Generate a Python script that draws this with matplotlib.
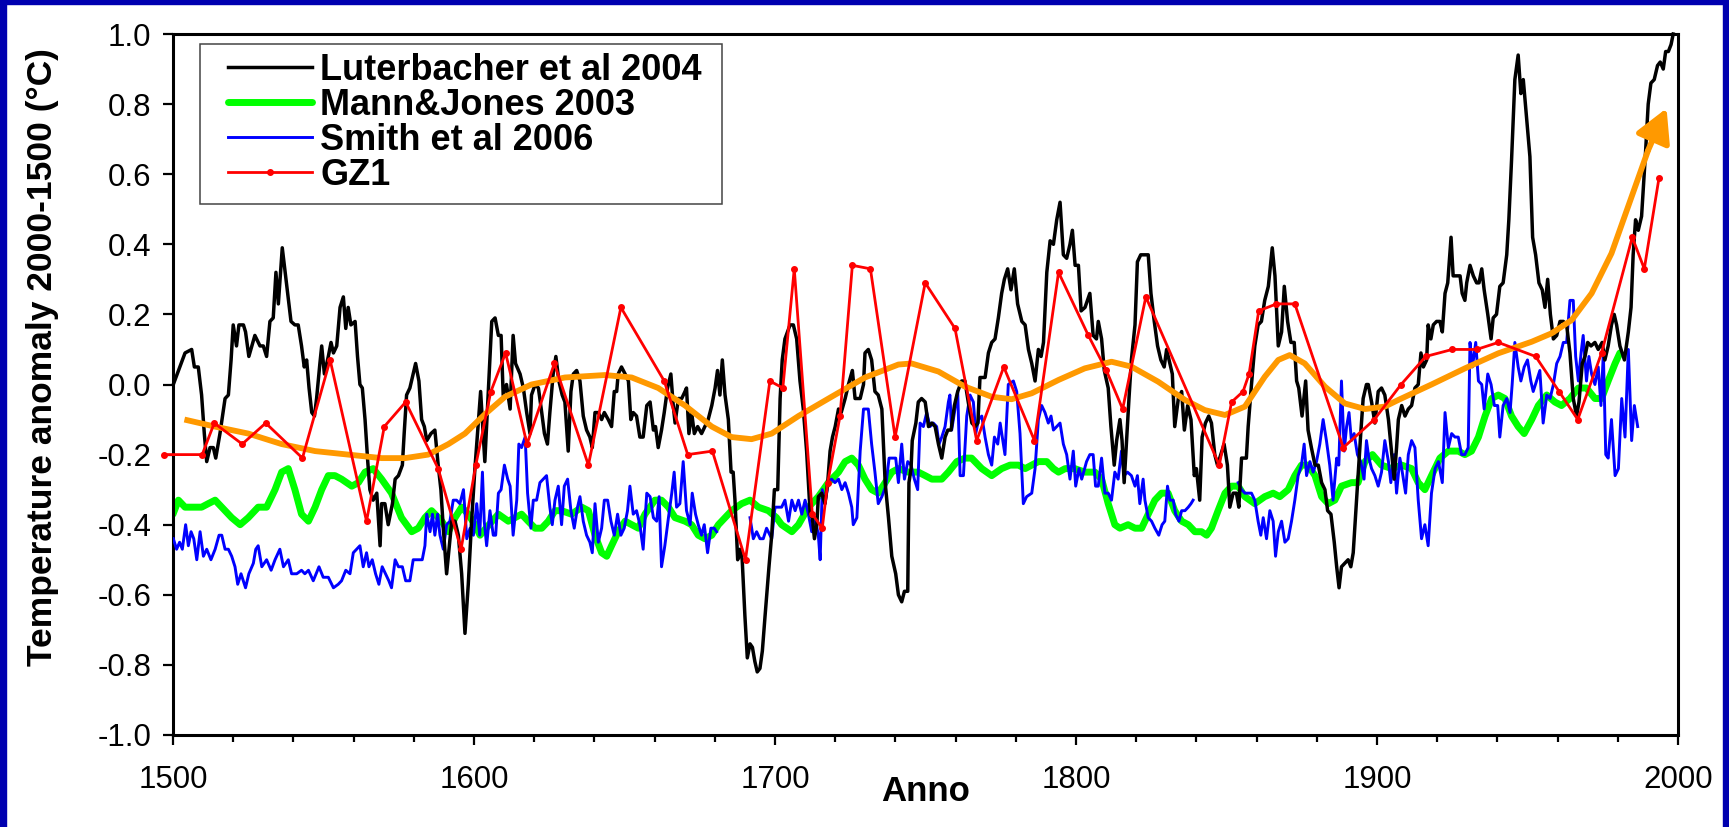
import numpy as np
import matplotlib
matplotlib.use("Agg")
import matplotlib.pyplot as plt
from matplotlib.ticker import MultipleLocator, FormatStrFormatter
from matplotlib.patches import Rectangle, FancyArrowPatch

plt.rcParams['font.family'] = ['Liberation Sans', 'DejaVu Sans']
plt.rcParams['axes.unicode_minus'] = False

# Luterbacher et al 2004 (annual reconstruction)
lut_year = [
    1500.1, 1504.0, 1506.2, 1507.1, 1508.4, 1509.5, 1510.4, 1511.2, 1512.3, 1513.4, 1514.2, 1515.6, 1517.3, 1518.4,
    1519.3, 1520.0, 1521.1, 1521.9, 1523.4, 1524.1, 1525.2, 1527.2, 1528.9, 1530.0, 1531.1, 1532.2, 1533.3, 1534.2,
    1535.0, 1536.3, 1537.8, 1539.2, 1540.5, 1541.6, 1542.7, 1543.6, 1544.4, 1545.2, 1546.1, 1547.0, 1547.7, 1548.8,
    1549.4, 1550.3, 1551.6, 1552.5, 1553.3, 1554.4, 1555.5, 1556.6, 1557.4, 1558.2, 1559.1, 1560.5, 1561.3, 1562.1,
    1562.9, 1563.8, 1564.7, 1565.4, 1566.5, 1567.7, 1568.8, 1569.3, 1570.4, 1571.5, 1572.9, 1573.8, 1574.9, 1576.2,
    1576.8, 1577.6, 1578.7, 1579.8, 1580.6, 1581.7, 1582.6, 1583.5, 1584.3, 1585.7, 1587.0, 1588.1, 1589.0, 1589.8,
    1590.9, 1591.7, 1592.6, 1593.7, 1594.8, 1595.9, 1597.0, 1598.1, 1599.2, 1600.3, 1602.2, 1603.6, 1604.8, 1605.9,
    1607.0, 1608.1, 1609.0, 1609.7, 1610.8, 1612.0, 1613.0, 1613.8, 1615.3, 1616.4, 1617.5, 1618.6, 1619.1, 1620.3,
    1621.4, 1622.5, 1623.4, 1624.4, 1625.2, 1626.3, 1627.2, 1628.2, 1629.3, 1630.2, 1631.3, 1632.2, 1633.0, 1634.1,
    1635.2, 1636.3, 1637.4, 1638.5, 1639.3, 1640.2, 1641.3, 1642.4, 1643.3, 1644.6, 1645.7, 1646.6, 1647.4, 1647.9,
    1649.0, 1650.2, 1651.3, 1652.1, 1652.9, 1654.0, 1655.1, 1656.2, 1657.4, 1658.5, 1659.6, 1660.3, 1661.2, 1662.3,
    1663.2, 1664.3, 1665.4, 1666.2, 1666.8, 1667.9, 1669.0, 1670.1, 1670.6, 1671.4, 1672.3, 1673.2, 1674.3, 1675.6,
    1676.7, 1677.8, 1679.0, 1680.1, 1680.9, 1681.7, 1682.5, 1683.4, 1684.5, 1685.4, 1686.1, 1686.7, 1687.6, 1688.4,
    1689.1, 1690.0, 1690.8, 1691.7, 1692.5, 1693.3, 1694.1, 1695.0, 1695.8, 1696.7, 1698.0, 1698.9, 1699.8, 1700.9,
    1701.7, 1702.4, 1703.3, 1705.0, 1706.1, 1707.2, 1708.3, 1709.4, 1710.5, 1711.7, 1712.4, 1713.1, 1713.9, 1714.4,
    1715.5, 1716.6, 1717.5, 1718.3, 1719.1, 1720.0, 1721.1, 1722.0, 1723.3, 1724.4, 1725.7, 1726.6, 1728.3, 1729.4,
    1729.9, 1731.0, 1732.1, 1733.2, 1734.3, 1735.5, 1736.6, 1737.7, 1738.8, 1740.1, 1741.0, 1742.1, 1743.0, 1744.1,
    1744.5, 1745.2, 1745.6, 1746.8, 1747.6, 1748.7, 1749.9, 1751.0, 1752.1, 1753.2, 1754.3, 1755.4, 1756.5, 1757.4,
    1758.5, 1759.6, 1760.7, 1762.0, 1763.1, 1764.2, 1765.4, 1766.5, 1767.4, 1768.1, 1769.8, 1770.9, 1772.0, 1773.1,
    1774.2, 1775.3, 1776.2, 1777.3, 1778.4, 1779.5, 1780.6, 1782.0, 1783.1, 1784.2, 1785.3, 1786.4, 1787.5, 1788.4,
    1789.2, 1790.3, 1791.4, 1792.5, 1793.6, 1794.7, 1795.8, 1796.9, 1798.0, 1798.8, 1799.7, 1800.8, 1801.7, 1803.0,
    1804.6, 1805.7, 1806.8, 1807.4, 1808.5, 1809.4, 1810.7, 1811.6, 1812.7, 1813.5, 1814.6, 1815.3, 1816.0, 1816.8,
    1817.6, 1818.4, 1819.6, 1820.4, 1821.5, 1822.9, 1824.0, 1824.9, 1826.0, 1827.1, 1828.2, 1829.3, 1830.1, 1831.2,
    1832.0, 1832.8, 1834.0, 1835.1, 1836.0, 1837.1, 1838.2, 1839.3, 1840.0, 1841.1, 1841.9, 1843.0, 1844.1, 1845.0,
    1846.1, 1847.0, 1848.1, 1849.2, 1850.3, 1851.1, 1852.2, 1853.3, 1854.1, 1855.0, 1856.6, 1857.2, 1858.3, 1859.4,
    1860.5, 1861.6, 1862.7, 1863.9, 1865.2, 1866.1, 1867.2, 1868.3, 1869.2, 1870.3, 1871.4, 1872.5, 1873.3, 1874.0,
    1875.1, 1876.3, 1877.1, 1878.2, 1879.4, 1880.5, 1881.6, 1882.7, 1883.6, 1884.7, 1885.8, 1886.6, 1887.4, 1888.2,
    1889.3, 1890.4, 1891.3, 1892.1, 1892.9, 1893.8, 1894.6, 1895.4, 1896.5, 1897.1, 1898.2, 1899.3, 1900.4, 1901.5,
    1902.6, 1903.8, 1904.9, 1905.7, 1906.5, 1907.1, 1908.2, 1909.3, 1910.4, 1911.5, 1912.6, 1913.7, 1914.6, 1915.4,
    1916.5, 1917.0, 1917.9, 1918.7, 1919.8, 1920.9, 1921.7, 1922.6, 1923.5, 1924.6, 1925.3, 1926.5, 1927.6, 1928.3,
    1929.2, 1929.8, 1930.9, 1932.0, 1933.1, 1933.9, 1934.8, 1935.6, 1936.8, 1937.9, 1938.6, 1939.7, 1940.8, 1941.9,
    1943.1, 1943.8, 1944.7, 1945.8, 1946.9, 1947.8, 1948.6, 1949.7, 1950.8, 1951.7, 1952.7, 1953.8, 1954.9, 1955.8,
    1956.7, 1957.6, 1958.6, 1959.7, 1960.8, 1961.9, 1963.0, 1964.1, 1965.2, 1966.3, 1967.1, 1968.2, 1969.1, 1970.0,
    1971.1, 1972.4, 1973.5, 1974.8, 1975.7, 1976.8, 1977.9, 1978.8, 1979.6, 1980.7, 1982.2, 1983.5, 1984.4, 1985.1,
    1985.9, 1986.8, 1987.9, 1989.2, 1990.1, 1991.0, 1992.1, 1993.2, 1994.1, 1995.1, 1995.9, 1996.8, 1997.7, 1998.4,
]
lut_temp = [
    0.00, 0.09, 0.10, 0.05, 0.05, -0.03, -0.14, -0.22, -0.18, -0.18, -0.21, -0.14, -0.04, -0.03,
    0.07, 0.17, 0.11, 0.17, 0.17, 0.15, 0.08, 0.14, 0.11, 0.11, 0.08, 0.18, 0.19, 0.32,
    0.23, 0.39, 0.28, 0.18, 0.17, 0.17, 0.11, 0.05, 0.07, -0.01, -0.08, -0.09, -0.04, 0.06,
    0.11, 0.03, 0.08, 0.12, 0.09, 0.11, 0.22, 0.25, 0.16, 0.22, 0.17, 0.18, 0.08, 0.00,
    -0.01, -0.10, -0.22, -0.30, -0.33, -0.31, -0.46, -0.34, -0.34, -0.40, -0.34, -0.27, -0.26, -0.23,
    -0.14, -0.03, -0.01, 0.03, 0.06, 0.01, -0.10, -0.12, -0.16, -0.14, -0.13, -0.23, -0.30, -0.41,
    -0.54, -0.47, -0.39, -0.39, -0.43, -0.54, -0.71, -0.57, -0.39, -0.24, -0.02, -0.22, -0.01, 0.18,
    0.19, 0.14, 0.14, -0.03, 0.00, -0.07, 0.14, 0.06, 0.03, -0.01, -0.08, -0.14, -0.03, 0.00,
    -0.01, -0.08, -0.14, -0.17, -0.08, 0.03, 0.08, 0.01, -0.03, -0.05, -0.19, -0.02, 0.03, 0.04,
    0.01, -0.09, -0.13, -0.15, -0.18, -0.08, -0.08, -0.10, -0.08, -0.10, -0.12, -0.02, -0.02, 0.03,
    0.05, 0.03, 0.01, -0.10, -0.08, -0.09, -0.15, -0.15, -0.06, -0.05, -0.13, -0.12, -0.18, -0.13,
    -0.08, -0.01, 0.03, -0.06, -0.11, -0.04, -0.04, -0.02, -0.01, -0.14, -0.08, -0.14, -0.12, -0.14,
    -0.12, -0.10, -0.06, -0.01, 0.04, -0.03, 0.07, -0.03, -0.10, -0.25, -0.25, -0.33, -0.50, -0.47,
    -0.50, -0.66, -0.78, -0.74, -0.75, -0.79, -0.82, -0.81, -0.76, -0.66, -0.52, -0.43, -0.30, -0.30,
    -0.04, 0.07, 0.13, 0.17, 0.17, 0.13, 0.01, -0.07, -0.19, -0.37, -0.38, -0.44, -0.40, -0.32,
    -0.31, -0.34, -0.28, -0.19, -0.15, -0.12, -0.07, -0.08, -0.04, 0.00, 0.04, -0.04, -0.04, 0.00,
    0.09, 0.10, 0.07, -0.02, -0.03, -0.07, -0.28, -0.38, -0.49, -0.54, -0.60, -0.62, -0.59, -0.59,
    -0.28, -0.24, -0.16, -0.11, -0.05, -0.04, -0.05, -0.12, -0.11, -0.12, -0.17, -0.21, -0.15, -0.13,
    -0.13, -0.06, -0.02, 0.01, 0.01, -0.05, -0.11, -0.12, -0.11, 0.02, 0.02, 0.09, 0.12, 0.13,
    0.19, 0.26, 0.30, 0.33, 0.27, 0.33, 0.23, 0.18, 0.17, 0.10, 0.06, 0.01, 0.10, 0.08,
    0.12, 0.32, 0.41, 0.40, 0.47, 0.52, 0.37, 0.36, 0.40, 0.44, 0.34, 0.34, 0.21, 0.22,
    0.26, 0.14, 0.13, 0.18, 0.13, 0.04, -0.01, -0.12, -0.23, -0.16, -0.10, -0.16, -0.28, -0.16,
    -0.04, 0.07, 0.17, 0.35, 0.37, 0.37, 0.37, 0.26, 0.18, 0.11, 0.07, 0.05, 0.10, 0.06,
    0.03, -0.12, -0.04, -0.02, -0.13, -0.06, -0.10, -0.26, -0.24, -0.33, -0.15, -0.11, -0.09, -0.11,
    -0.20, -0.23, -0.20, -0.17, -0.23, -0.35, -0.31, -0.31, -0.35, -0.21, -0.21, -0.12, 0.00, 0.11,
    0.17, 0.18, 0.24, 0.28, 0.39, 0.31, 0.11, 0.15, 0.28, 0.18, 0.12, 0.12, 0.01, -0.01,
    -0.09, 0.01, -0.13, -0.18, -0.23, -0.23, -0.28, -0.30, -0.36, -0.37, -0.45, -0.52, -0.58, -0.52,
    -0.51, -0.50, -0.52, -0.48, -0.37, -0.25, -0.14, -0.04, 0.00, 0.00, -0.05, -0.11, -0.02, -0.01,
    -0.03, -0.10, -0.20, -0.27, -0.18, -0.10, -0.06, -0.09, -0.07, -0.06, -0.01, 0.00, 0.09, 0.05,
    0.07, 0.17, 0.13, 0.17, 0.18, 0.18, 0.15, 0.26, 0.29, 0.42, 0.31, 0.31, 0.31, 0.26,
    0.24, 0.29, 0.34, 0.31, 0.29, 0.29, 0.33, 0.27, 0.20, 0.13, 0.19, 0.20, 0.28, 0.29,
    0.37, 0.47, 0.64, 0.87, 0.94, 0.83, 0.87, 0.76, 0.65, 0.42, 0.37, 0.29, 0.27, 0.22,
    0.30, 0.20, 0.13, 0.14, 0.18, 0.18, 0.17, 0.09, -0.04, -0.09, -0.05, 0.06, 0.08, 0.12,
    0.11, 0.12, 0.10, 0.12, 0.07, 0.11, 0.17, 0.20, 0.17, 0.11, 0.07, 0.15, 0.22, 0.37,
    0.47, 0.44, 0.48, 0.66, 0.80, 0.86, 0.87, 0.91, 0.92, 0.90, 0.95, 0.95, 0.97, 1.00,
]

# Mann & Jones 2003 (smoothed)
mj_year = [
    1500.0, 1501.8, 1504.0, 1509.5, 1511.7, 1514.0, 1516.2, 1519.5, 1522.3, 1525.0, 1528.3, 1531.1, 1533.9, 1536.1,
    1538.3, 1540.5, 1542.7, 1545.0, 1547.2, 1549.4, 1551.6, 1553.8, 1556.0, 1559.4, 1561.6, 1563.8, 1566.5, 1569.3,
    1572.6, 1575.9, 1579.3, 1581.5, 1583.7, 1585.9, 1589.3, 1591.5, 1593.7, 1595.9, 1598.1, 1600.3, 1602.0, 1604.0,
    1606.0, 1608.1, 1611.4, 1613.6, 1615.8, 1618.0, 1620.3, 1622.5, 1624.7, 1626.9, 1629.1, 1632.4, 1635.8, 1638.0,
    1640.2, 1642.4, 1644.1, 1645.7, 1647.9, 1650.2, 1652.4, 1654.6, 1656.8, 1660.1, 1662.3, 1664.6, 1666.8, 1670.1,
    1672.3, 1674.5, 1676.7, 1679.0, 1681.2, 1683.4, 1685.6, 1688.9, 1691.7, 1694.5, 1697.8, 1700.5, 1702.2, 1705.6,
    1707.8, 1711.1, 1714.4, 1717.7, 1721.1, 1723.3, 1725.5, 1727.7, 1729.9, 1732.1, 1734.3, 1736.6, 1738.8, 1741.0,
    1744.3, 1747.6, 1749.9, 1752.1, 1755.4, 1757.6, 1760.4, 1763.1, 1765.3, 1768.7, 1772.0, 1775.3, 1778.1, 1780.9,
    1783.1, 1785.3, 1787.5, 1790.3, 1792.5, 1794.2, 1796.4, 1799.6, 1802.9, 1806.3, 1808.5, 1810.7, 1812.9, 1814.6,
    1817.3, 1819.6, 1821.8, 1824.0, 1826.2, 1828.4, 1830.6, 1832.8, 1835.1, 1837.3, 1839.5, 1841.7, 1843.4, 1845.0,
    1847.2, 1849.5, 1851.7, 1853.9, 1856.1, 1859.4, 1862.7, 1865.5, 1867.7, 1870.5, 1872.7, 1874.9, 1877.1, 1879.4,
    1881.6, 1883.8, 1886.0, 1888.2, 1891.5, 1893.7, 1896.0, 1898.5, 1901.5, 1904.9, 1908.2, 1911.5, 1913.7, 1915.9,
    1918.1, 1920.9, 1923.7, 1927.0, 1929.2, 1931.4, 1933.7, 1935.9, 1938.1, 1940.3, 1942.5, 1944.7, 1946.9, 1948.9,
    1951.4, 1953.6, 1956.4, 1959.1, 1961.3, 1964.1, 1966.9, 1969.6, 1972.4, 1974.6, 1976.8, 1979.1, 1980.7,
]
mj_temp = [
    -0.37, -0.33, -0.35, -0.35, -0.34, -0.33, -0.35, -0.38, -0.40, -0.38, -0.35, -0.35, -0.30, -0.25,
    -0.24, -0.30, -0.37, -0.39, -0.35, -0.30, -0.26, -0.26, -0.27, -0.29, -0.28, -0.25, -0.24, -0.27,
    -0.31, -0.38, -0.42, -0.41, -0.38, -0.36, -0.39, -0.42, -0.38, -0.35, -0.37, -0.40, -0.43, -0.41,
    -0.39, -0.37, -0.39, -0.38, -0.37, -0.39, -0.41, -0.41, -0.39, -0.36, -0.36, -0.37, -0.35, -0.36,
    -0.43, -0.48, -0.49, -0.46, -0.42, -0.39, -0.40, -0.41, -0.37, -0.33, -0.33, -0.35, -0.38, -0.39,
    -0.40, -0.43, -0.44, -0.43, -0.40, -0.38, -0.36, -0.34, -0.33, -0.35, -0.36, -0.38, -0.40, -0.42,
    -0.40, -0.35, -0.32, -0.28, -0.25, -0.22, -0.21, -0.23, -0.27, -0.30, -0.31, -0.28, -0.25, -0.24,
    -0.25, -0.25, -0.26, -0.27, -0.27, -0.25, -0.22, -0.21, -0.21, -0.24, -0.26, -0.24, -0.23, -0.23,
    -0.24, -0.23, -0.22, -0.22, -0.24, -0.25, -0.24, -0.24, -0.25, -0.25, -0.27, -0.34, -0.40, -0.41,
    -0.40, -0.41, -0.41, -0.37, -0.33, -0.31, -0.31, -0.36, -0.39, -0.40, -0.42, -0.42, -0.43, -0.41,
    -0.36, -0.31, -0.29, -0.29, -0.32, -0.34, -0.32, -0.31, -0.32, -0.30, -0.26, -0.23, -0.23, -0.26,
    -0.32, -0.34, -0.33, -0.29, -0.28, -0.28, -0.22, -0.20, -0.23, -0.24, -0.23, -0.24, -0.28, -0.30,
    -0.26, -0.21, -0.19, -0.19, -0.20, -0.19, -0.15, -0.09, -0.04, -0.03, -0.04, -0.09, -0.12, -0.14,
    -0.10, -0.06, -0.03, -0.05, -0.06, -0.04, -0.01, -0.01, -0.04, -0.04, 0.01, 0.06, 0.09,
]

# Smith et al 2006 (nan marks the breaks in the record)
smith_year = [
    1500.1, 1501.2, 1502.2, 1503.1, 1504.2, 1505.1, 1506.0, 1506.9, 1507.9, 1509.0, 1510.1, 1511.2, 1512.6, 1514.0,
    1515.3, 1516.2, 1517.3, 1518.4, 1519.5, 1520.6, 1521.5, 1522.6, 1524.1, 1525.2, 1526.7, 1527.5, 1528.3, 1529.5,
    1531.1, 1532.6, 1533.9, 1535.5, 1536.7, 1538.3, 1539.4, 1541.1, 1542.7, 1543.8, 1545.0, 1546.6, 1548.5, 1549.9,
    1551.6, 1553.3, 1554.9, 1556.0, 1557.4, 1558.8, 1559.9, 1561.0, 1562.1, 1563.2, 1564.3, 1565.1, 1566.2, 1567.3,
    1568.4, 1569.5, 1570.6, 1571.7, 1572.6, 1573.8, 1574.9, 1576.2, 1577.3, 1578.7, 1579.8, 1581.5, 1582.8, 1583.7,
    1584.3, 1585.4, 1586.2, 1587.0, 1587.9, 1588.7, 1589.8, 1590.9, 1592.0, 1593.1, 1594.2, 1595.3, 1596.5, 1597.6,
    1598.7, 1599.8, 1600.9, 1601.9, 1602.8, 1603.4, 1604.2, 1605.3, 1606.4, 1607.2, 1608.1, 1609.0, 1610.1, 1611.2,
    1612.0, 1613.0, 1614.2, 1614.9, 1615.8, 1617.0, 1617.8, 1618.9, 1619.7, 1620.8, 1621.9, 1623.0, 1624.1, 1625.2,
    1626.0, 1626.9, 1628.0, 1629.1, 1630.0, 1631.1, 1632.2, 1633.3, 1634.4, 1635.2, 1636.3, 1637.4, 1638.5, 1639.3,
    1640.2, 1641.3, 1642.4, 1643.3, 1644.4, 1645.5, 1646.6, 1647.7, 1648.8, 1649.9, 1651.0, 1651.8, 1652.9, 1654.0,
    1655.1, 1656.2, 1657.4, 1658.5, 1659.6, 1660.7, 1661.5, 1662.3, 1663.4, 1664.6, 1665.7, 1666.5, 1667.3, 1668.4,
    1669.5, 1670.6, 1671.8, 1672.5, 1673.6, 1674.5, 1675.6, 1676.5, 1677.6, 1678.7, 1679.8, 1680.6, 1686.0, 1691.7,
    1692.8, 1693.9, 1695.0, 1696.1, 1697.2, 1698.9, 1700.0, 1701.1, 1702.2, 1703.3, 1704.5, 1705.6, 1706.7, 1707.8,
    1708.9, 1710.0, 1711.1, 1712.2, 1713.3, 1714.4, 1715.0, 1715.7, 1716.6, 1717.7, 1718.8, 1719.9, 1721.1, 1722.2,
    1723.3, 1724.4, 1725.5, 1726.0, 1727.2, 1728.3, 1729.4, 1731.0, 1732.1, 1733.2, 1734.3, 1735.5, 1736.8, 1737.9,
    1739.0, 1740.1, 1741.0, 1742.1, 1743.0, 1744.1, 1745.2, 1746.3, 1747.4, 1748.2, 1749.3, 1750.4, 1751.5, 1752.6,
    1753.7, 1754.5, 1755.4, 1756.5, 1757.6, 1758.1, 1758.7, 1759.8, 1760.7, 1761.5, 1762.6, 1763.7, 1764.8, 1765.9,
    1766.7, 1767.6, 1768.7, 1769.8, 1770.9, 1772.0, 1772.9, 1774.0, 1774.8, 1775.5, 1776.4, 1777.5, 1779.2, 1780.3,
    1781.4, 1782.5, 1783.6, 1785.3, 1786.4, 1787.5, 1788.6, 1789.7, 1790.8, 1791.7, 1792.5, 1793.6, 1794.7, 1795.8,
    1796.9, 1798.0, 1799.1, 1799.9, 1801.0, 1801.9, 1803.5, 1804.6, 1805.7, 1806.5, 1807.4, 1808.5, 1809.6, 1810.7,
    1811.8, 1812.9, 1814.0, 1815.1, 1816.0, 1817.1, 1818.4, 1819.6, 1820.4, 1821.2, 1822.3, 1822.9, 1824.0, 1825.1,
    1826.2, 1827.5, 1828.6, 1829.5, 1830.4, 1831.2, 1832.3, 1833.1, 1834.2, 1835.1, 1836.2, 1837.3, 1838.2, 1838.9,
    1846.0, 1853.9, 1855.0, 1856.1, 1857.2, 1858.3, 1859.4, 1860.5, 1861.4, 1862.2, 1863.3, 1864.4, 1865.5, 1866.3,
    1867.2, 1868.3, 1869.4, 1870.5, 1871.6, 1872.7, 1873.8, 1874.9, 1875.8, 1876.6, 1877.7, 1878.8, 1879.9, 1881.0,
    1882.1, 1883.2, 1884.3, 1885.4, 1886.6, 1887.3, 1888.2, 1889.1, 1889.9, 1890.7, 1891.5, 1892.4, 1893.5, 1894.6,
    1895.7, 1896.5, 1897.3, 1898.2, 1899.3, 1900.4, 1901.5, 1902.6, 1903.8, 1904.6, 1905.7, 1906.5, 1907.6, 1908.4,
    1909.5, 1910.4, 1911.5, 1912.6, 1913.7, 1914.8, 1915.9, 1917.0, 1918.1, 1919.3, 1920.4, 1921.7, 1922.6, 1923.7,
    1924.8, 1925.9, 1927.0, 1928.1, 1929.2, 1930.3, 1930.9, 1931.7, 1932.8, 1933.7, 1934.8, 1935.6, 1936.8, 1937.9,
    1939.0, 1940.1, 1940.8, 1941.9, 1943.1, 1944.2, 1944.9, 1945.8, 1946.9, 1947.8, 1948.9, 1950.0, 1951.1, 1951.9,
    1953.0, 1954.1, 1955.2, 1956.4, 1957.5, 1958.6, 1959.7, 1960.8, 1961.9, 1963.0, 1964.1, 1965.2, 1966.0, 1966.9,
    1967.8, 1968.5, 1969.6, 1970.4, 1971.3, 1972.4, 1973.5, 1974.4, 1975.2, 1976.0, 1976.8, 1977.9, 1979.1, 1980.2,
    1981.3, 1982.4, 1983.5, 1984.6, 1985.5, 1986.6,
]
smith_temp = [
    -0.44, -0.47, -0.45, -0.47, -0.40, -0.46, -0.42, -0.44, -0.50, -0.42, -0.49, -0.47, -0.50, -0.47,
    -0.43, -0.43, -0.47, -0.47, -0.49, -0.52, -0.57, -0.54, -0.58, -0.54, -0.51, -0.47, -0.46, -0.52,
    -0.50, -0.53, -0.50, -0.47, -0.52, -0.50, -0.54, -0.54, -0.53, -0.54, -0.53, -0.56, -0.52, -0.55,
    -0.55, -0.58, -0.57, -0.56, -0.53, -0.54, -0.48, -0.47, -0.46, -0.52, -0.48, -0.52, -0.50, -0.54,
    -0.57, -0.52, -0.54, -0.56, -0.58, -0.50, -0.52, -0.52, -0.56, -0.56, -0.50, -0.50, -0.50, -0.46,
    -0.37, -0.42, -0.37, -0.43, -0.37, -0.43, -0.47, -0.40, -0.39, -0.33, -0.33, -0.34, -0.30, -0.44,
    -0.41, -0.43, -0.34, -0.43, -0.25, -0.39, -0.46, -0.36, -0.43, -0.43, -0.31, -0.30, -0.23, -0.27,
    -0.29, -0.43, -0.33, -0.17, -0.18, -0.15, -0.31, -0.41, -0.33, -0.33, -0.28, -0.27, -0.26, -0.35,
    -0.40, -0.33, -0.29, -0.40, -0.29, -0.27, -0.36, -0.41, -0.35, -0.32, -0.39, -0.43, -0.45, -0.48,
    -0.34, -0.45, -0.41, -0.33, -0.33, -0.39, -0.43, -0.37, -0.43, -0.41, -0.36, -0.29, -0.37, -0.36,
    -0.40, -0.47, -0.31, -0.32, -0.38, -0.39, -0.32, -0.52, -0.46, -0.38, -0.31, -0.25, -0.35, -0.34,
    -0.22, -0.36, -0.40, -0.31, -0.37, -0.40, -0.43, -0.40, -0.48, -0.41, -0.41, -0.42, np.nan, -0.38,
    -0.44, -0.42, -0.44, -0.44, -0.41, -0.44, -0.35, -0.35, -0.35, -0.33, -0.39, -0.33, -0.36, -0.33,
    -0.37, -0.33, -0.37, -0.42, -0.38, -0.43, -0.50, -0.30, -0.34, -0.28, -0.27, -0.28, -0.27, -0.30,
    -0.28, -0.31, -0.35, -0.40, -0.38, -0.19, -0.07, -0.07, -0.17, -0.25, -0.34, -0.32, -0.29, -0.21,
    -0.21, -0.21, -0.28, -0.17, -0.27, -0.22, -0.23, -0.27, -0.30, -0.11, -0.12, -0.08, -0.12, -0.11,
    -0.12, -0.17, -0.15, -0.12, -0.05, -0.03, -0.13, -0.07, -0.02, -0.26, -0.26, -0.09, -0.03, -0.05,
    -0.14, -0.10, -0.09, -0.15, -0.20, -0.23, -0.15, -0.17, -0.11, -0.15, -0.20, 0.00, 0.01, -0.02,
    -0.14, -0.34, -0.32, -0.31, -0.24, -0.10, -0.06, -0.08, -0.11, -0.09, -0.13, -0.12, -0.11, -0.17,
    -0.20, -0.27, -0.19, -0.29, -0.24, -0.27, -0.22, -0.20, -0.20, -0.29, -0.29, -0.21, -0.31, -0.31,
    -0.33, -0.25, -0.27, -0.19, -0.26, -0.25, -0.26, -0.29, -0.26, -0.34, -0.27, -0.33, -0.38, -0.39,
    -0.41, -0.43, -0.40, -0.39, -0.29, -0.33, -0.33, -0.37, -0.39, -0.36, -0.36, -0.35, -0.34, -0.33,
    np.nan, -0.28, -0.30, -0.31, -0.31, -0.31, -0.33, -0.39, -0.43, -0.38, -0.44, -0.36, -0.39, -0.49,
    -0.42, -0.39, -0.45, -0.44, -0.39, -0.33, -0.26, -0.23, -0.17, -0.26, -0.22, -0.25, -0.22, -0.17,
    -0.10, -0.16, -0.23, -0.33, -0.21, -0.23, 0.01, -0.19, -0.12, -0.08, -0.16, -0.14, -0.20, -0.22,
    -0.27, -0.16, -0.21, -0.24, -0.26, -0.29, -0.25, -0.16, -0.22, -0.28, -0.20, -0.31, -0.21, -0.25,
    -0.31, -0.20, -0.16, -0.18, -0.33, -0.44, -0.40, -0.46, -0.31, -0.24, -0.22, -0.28, -0.08, -0.18,
    -0.14, -0.15, -0.15, -0.20, -0.20, -0.18, 0.12, 0.05, 0.12, 0.01, 0.00, -0.07, 0.03, 0.00,
    -0.06, -0.06, -0.15, -0.06, -0.04, -0.08, 0.00, 0.12, 0.05, 0.01, 0.05, 0.07, 0.01, -0.02,
    0.01, 0.04, -0.11, -0.03, -0.04, 0.00, 0.06, 0.08, 0.12, 0.12, 0.24, 0.24, 0.08, 0.01,
    0.09, 0.14, 0.01, 0.08, 0.03, 0.00, 0.05, -0.06, 0.09, -0.20, -0.21, -0.10, -0.26, -0.24,
    -0.04, -0.15, 0.10, -0.16, -0.06, -0.12,
]

# GZ1 (points joined by straight segments)
gz1_year = [
    1497.0, 1509.7, 1513.7, 1523.0, 1530.8, 1543.0, 1552.2, 1564.3, 1570.2, 1577.3, 1588.1, 1595.7, 1600.6, 1605.6,
    1610.5, 1617.6, 1626.7, 1638.0, 1648.8, 1663.2, 1671.0, 1679.2, 1690.2, 1698.3, 1702.6, 1706.4, 1712.4, 1715.7,
    1717.5, 1721.6, 1725.7, 1731.7, 1739.9, 1749.9, 1759.8, 1767.0, 1776.0, 1786.2, 1794.2, 1804.1, 1810.1, 1815.5,
    1823.2, 1847.6, 1851.7, 1855.5, 1857.5, 1860.7, 1866.6, 1872.7, 1888.8, 1899.1, 1908.0, 1916.2, 1925.0, 1933.1,
    1940.3, 1952.7, 1960.5, 1966.7, 1974.6, 1984.8, 1988.8, 1993.7,
]
gz1_temp = [
    -0.20, -0.20, -0.11, -0.17, -0.11, -0.21, 0.07, -0.39, -0.12, -0.05, -0.24, -0.47, -0.23, -0.02,
    0.09, -0.17, 0.06, -0.23, 0.22, 0.01, -0.20, -0.19, -0.50, 0.01, -0.01, 0.33, -0.37, -0.41,
    -0.28, -0.09, 0.34, 0.33, -0.15, 0.29, 0.16, -0.16, 0.05, -0.16, 0.32, 0.14, 0.04, -0.07,
    0.25, -0.23, -0.05, -0.02, 0.03, 0.21, 0.23, 0.23, -0.18, -0.10, 0.00, 0.08, 0.10, 0.10,
    0.12, 0.08, -0.02, -0.10, 0.09, 0.42, 0.33, 0.59,
]

# hand-drawn trend curve ending in an arrow
trend_year = [
    1503.8, 1513.9, 1525.0, 1536.1, 1547.2, 1558.2, 1569.3, 1577.1, 1584.8, 1591.5, 1597.0, 1603.6, 1610.3, 1619.1,
    1630.2, 1643.5, 1652.4, 1661.2, 1670.1, 1679.0, 1685.6, 1692.2, 1698.9, 1707.8, 1718.8, 1729.9, 1741.0, 1745.4,
    1754.3, 1763.1, 1772.0, 1778.6, 1785.3, 1794.2, 1802.9, 1811.8, 1818.4, 1827.3, 1836.2, 1842.8, 1849.5, 1856.1,
    1862.7, 1867.2, 1871.0, 1876.0, 1882.7, 1889.3, 1896.0, 1902.6, 1907.1, 1918.1, 1929.2, 1940.3, 1951.4, 1958.0,
    1964.7, 1971.3, 1977.9, 1984.6, 1990.1,
]
trend_temp = [
    -0.10, -0.12, -0.14, -0.17, -0.19, -0.20, -0.21, -0.21, -0.20, -0.17, -0.14, -0.085, -0.035, 0.00,
    0.02, 0.027, 0.02, -0.01, -0.06, -0.12, -0.15, -0.156, -0.14, -0.09, -0.035, 0.02, 0.057, 0.06,
    0.037, -0.006, -0.035, -0.042, -0.025, 0.013, 0.046, 0.065, 0.051, 0.008, -0.044, -0.073, -0.087, -0.063,
    0.022, 0.07, 0.084, 0.06, -0.006, -0.054, -0.07, -0.063, -0.044, 0.00, 0.046, 0.089, 0.122, 0.146,
    0.184, 0.26, 0.374, 0.536, 0.669,
]
trend_tip = (1996.2, 0.788)

year_ticks = [1500, 1600, 1700, 1800, 1900, 2000]
temp_ticks = [-1.0, -0.8, -0.6, -0.4, -0.2, 0.0, 0.2, 0.4, 0.6, 0.8, 1.0]

W, H = 1729, 827
fig = plt.figure(figsize=(W / 100, H / 100), dpi=100)
fig.patch.set_facecolor('white')

# blue slide frame
frame_blue = '#0000B0'
fig.add_artist(Rectangle((0, 0), 6 / W, 1, transform=fig.transFigure, color=frame_blue, zorder=10))
fig.add_artist(Rectangle((1 - 6 / W, 0), 6 / W, 1, transform=fig.transFigure, color=frame_blue, zorder=10))
fig.add_artist(Rectangle((0, 1 - 4 / H), 1, 4 / H, transform=fig.transFigure, color=frame_blue, zorder=10))

ax = fig.add_axes([173 / W, 1 - 735 / H, 1505 / W, 701 / H])

ax.plot(mj_year, mj_temp, color='#00FF00', lw=5.0, solid_capstyle='round', solid_joinstyle='round',
        label='Mann&Jones 2003', zorder=2)
ax.plot(smith_year, smith_temp, color='#0000FF', lw=2.1, label='Smith et al 2006', zorder=3)
ax.plot(lut_year, lut_temp, color='black', lw=2.5, label='Luterbacher et al 2004', zorder=4, clip_on=False)
ax.plot(trend_year, trend_temp, color='#FF9900', lw=4.2, solid_capstyle='butt', solid_joinstyle='round', zorder=5)
ax.add_patch(FancyArrowPatch((trend_year[-1], trend_temp[-1]), trend_tip,
                             arrowstyle='-|>,head_length=1.0,head_width=0.55', mutation_scale=20,
                             color='#FF9900', lw=4.2, shrinkA=0, shrinkB=0, zorder=5, clip_on=False))
ax.plot(gz1_year, gz1_temp, color='#FF0000', lw=2.0, marker='o', markersize=4.0, label='GZ1',
        zorder=6, clip_on=False)

ax.set_xlim(1500, 2000)
ax.set_ylim(-1.0, 1.0)
ax.set_xticks(year_ticks)
ax.xaxis.set_minor_locator(MultipleLocator(20))
ax.set_yticks(temp_ticks)
ax.yaxis.set_major_formatter(FormatStrFormatter('%.1f'))

for side in ['left', 'right', 'top', 'bottom']:
    ax.spines[side].set_linewidth(2.2)
    ax.spines[side].set_color('black')

ax.tick_params(axis='x', which='major', direction='out', length=7.5, width=1.6, labelsize=22.5, pad=14)
ax.tick_params(axis='x', which='minor', direction='out', length=5, width=1.6)
ax.tick_params(axis='y', which='major', direction='out', length=7.5, width=1.6, labelsize=22.5, pad=8)

ax.set_xlabel('Anno', fontsize=25, fontweight='bold', va='center')
ax.xaxis.set_label_coords(0.5, -0.0813)
ax.set_ylabel('Temperature anomaly 2000-1500 (°C)', fontsize=25.5, fontweight='bold', va='center')
ax.yaxis.set_label_coords(-0.087, 0.539)

# legend: entries without frame, box drawn separately
handles, labels = ax.get_legend_handles_labels()
order = [labels.index(n) for n in ['Luterbacher et al 2004', 'Mann&Jones 2003', 'Smith et al 2006', 'GZ1']]
leg = ax.legend([handles[i] for i in order], [labels[i] for i in order],
                loc='upper left', bbox_to_anchor=((228 - 173) / 1505, (735 - 53) / 701),
                frameon=False, borderpad=0, borderaxespad=0, handlelength=2.33, handletextpad=0.22,
                labelspacing=0.0, prop={'size': 26, 'weight': 'bold'})
leg.set_zorder(8)
ax.add_patch(Rectangle(((200 - 173) / 1505, (735 - 204) / 701), 522 / 1505, 160 / 701,
                       transform=ax.transAxes, facecolor='white', edgecolor='#444444', lw=1.1, zorder=7))

fig.savefig('out.png', dpi=100)
